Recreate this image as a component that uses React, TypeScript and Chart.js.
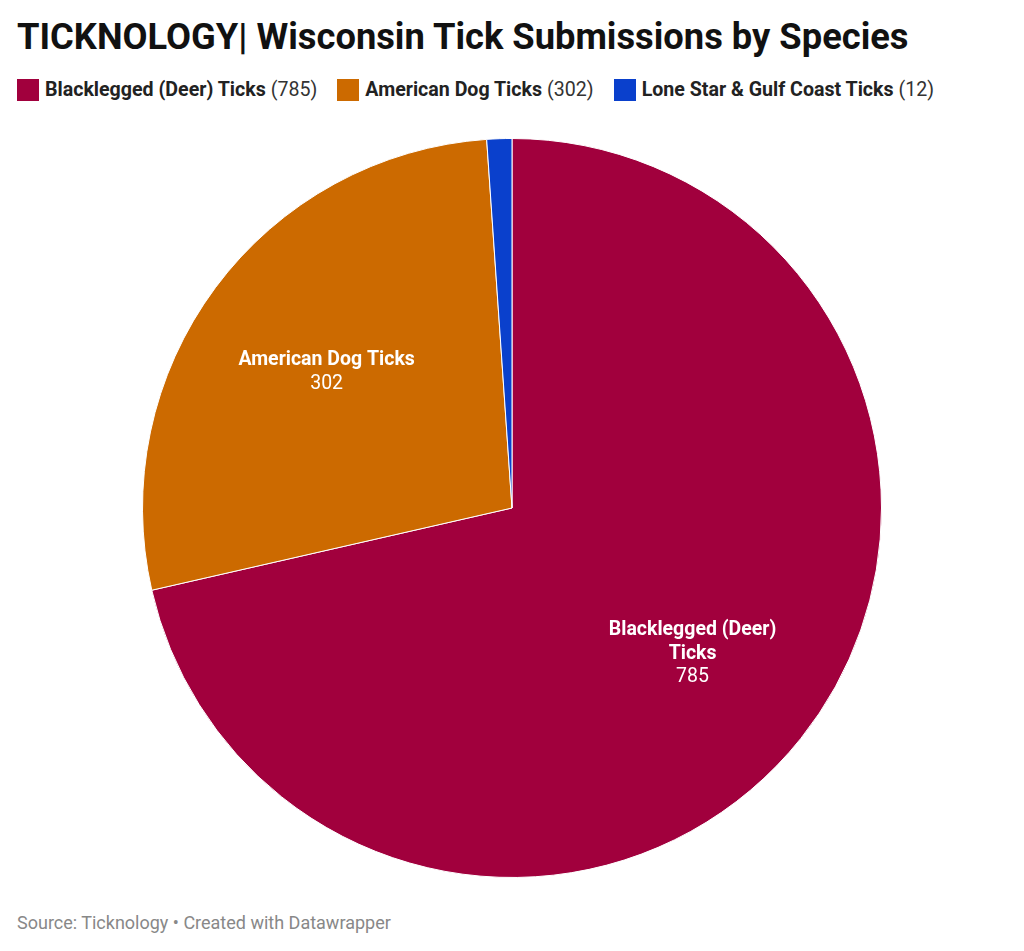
import React, { useEffect, useRef } from "react";
import { Chart, registerables } from "chart.js";

Chart.register(...registerables);

const categories = ["Blacklegged (Deer) Ticks", "American Dog Ticks", "Lone Star & Gulf Coast Ticks"];
const values = [785, 302, 12];
const colors = ["#a1003d", "#cc6a00", "#0a40cc"];
const sliceLabelLines = [["Blacklegged (Deer)", "Ticks"], ["American Dog Ticks"], []];
const title = "TICKNOLOGY| Wisconsin Tick Submissions by Species";
const source = "Source: Ticknology • Created with Datawrapper";

const FONT = "Roboto, 'Noto Sans', sans-serif";

const labelPlugin = {
  id: "sliceLabels",
  afterDatasetsDraw(chart: any) {
    const ctx = chart.ctx;
    const meta = chart.getDatasetMeta(0);
    meta.data.forEach((arc: any, i: number) => {
      const lines = sliceLabelLines[i];
      if (!lines || lines.length === 0) return;
      const { x, y, startAngle, endAngle, outerRadius } = arc.getProps(
        ["x", "y", "startAngle", "endAngle", "outerRadius"],
        true
      );
      const mid = (startAngle + endAngle) / 2;
      const r = outerRadius * 0.625;
      const cx = x + Math.cos(mid) * r;
      const cy = y + Math.sin(mid) * r + 2;
      const all = [...lines.map((l) => ({ t: l, b: true })), { t: String(values[i]), b: false }];
      const lh = 23.5;
      const top = cy - ((all.length - 1) * lh) / 2;
      ctx.save();
      ctx.fillStyle = "#ffffff";
      ctx.textAlign = "center";
      ctx.textBaseline = "middle";
      all.forEach((ln, k) => {
        ctx.font = `${ln.b ? "bold " : ""}19.5px ${FONT}`;
        ctx.fillText(ln.t, cx, top + k * lh);
      });
      ctx.restore();
    });
  },
};

export default function App() {
  const ref = useRef<HTMLCanvasElement>(null);
  useEffect(() => {
    if (!ref.current) return;
    const chart = new Chart(ref.current, {
      type: "pie",
      data: {
        labels: categories,
        datasets: [
          {
            data: values,
            backgroundColor: colors,
            borderColor: "#ffffff",
            borderWidth: 1,
          },
        ],
      },
      options: {
        animation: false,
        responsive: false,
        maintainAspectRatio: false,
        layout: { padding: 10 },
        plugins: {
          legend: { display: false },
          tooltip: { enabled: false },
          title: { display: false },
        },
      },
      plugins: [labelPlugin],
    });
    return () => chart.destroy();
  }, []);

  return (
    <div
      style={{
        position: "absolute",
        left: 0,
        top: 0,
        width: 1024,
        height: 951,
        background: "#ffffff",
        fontFamily: FONT,
        overflow: "hidden",
      }}
    >
      <div
        style={{
          position: "absolute",
          left: 17,
          top: 15,
          fontSize: 36.3,
          fontWeight: 700,
          color: "#111111",
          lineHeight: "44px",
          whiteSpace: "nowrap",
        }}
      >
        {title}
      </div>
      <div
        style={{
          position: "absolute",
          left: 17,
          top: 78,
          display: "flex",
          alignItems: "center",
          whiteSpace: "nowrap",
          fontSize: 19.6,
          color: "#222222",
          lineHeight: "24px",
        }}
      >
        {categories.map((c, i) => (
          <div key={c} style={{ display: "flex", alignItems: "center", marginRight: 20 }}>
            <span
              style={{
                display: "inline-block",
                width: 22,
                height: 22,
                background: colors[i],
                marginRight: 6,
              }}
            />
            <span style={{ fontWeight: 700 }}>{c}</span>
            <span style={{ marginLeft: 5, color: "#333" }}>({values[i]})</span>
          </div>
        ))}
      </div>
      <canvas
        ref={ref}
        width={1024}
        height={760}
        style={{ position: "absolute", left: 0, top: 128, width: 1024, height: 760 }}
      />
      <div
        style={{
          position: "absolute",
          left: 17,
          top: 911,
          fontSize: 18,
          color: "#888888",
          lineHeight: "24px",
          whiteSpace: "nowrap",
        }}
      >
        {source}
      </div>
    </div>
  );
}
